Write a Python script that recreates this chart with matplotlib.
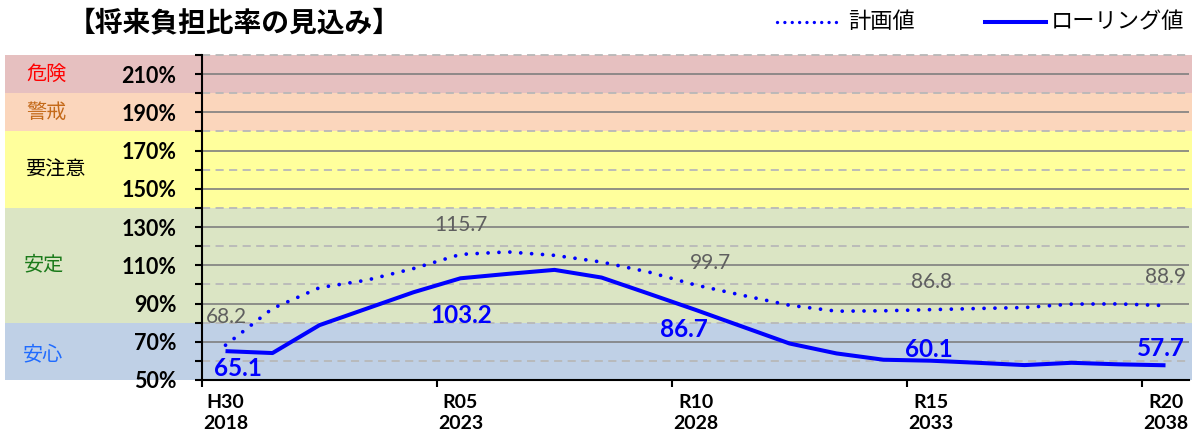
import matplotlib
matplotlib.use("Agg")
import matplotlib.pyplot as plt
from matplotlib.patches import Rectangle
from matplotlib.lines import Line2D
from matplotlib.transforms import blended_transform_factory

# ── データ ──────────────────────────────────────────────────────────────
years = list(range(2018, 2039))
plan = [68.2, 87.4, 98.3, 102.2, 108.3, 115.7, 117.0, 115.2, 111.7, 106.5,
        99.7, 94.3, 89.1, 86.0, 86.2, 86.8, 87.4, 87.9, 89.7, 89.8, 88.9]
rolling = [65.1, 64.1, 78.7, 87.3, 95.9, 103.2, 105.5, 107.6, 103.6, 95.2,
           86.7, 77.9, 69.1, 63.9, 60.6, 60.1, 59.0, 57.8, 59.0, 58.2, 57.7]

tick_idx = [0, 5, 10, 15, 20]
tick_labels = ["H30\n2018", "R05\n2023", "R10\n2028", "R15\n2033", "R20\n2038"]

plan_label_idx = [0, 5, 10, 15, 20]
rolling_label_idx = [0, 5, 10, 15, 20]

zone_names = ["安心", "安定", "要注意", "警戒", "危険"]
zone_bounds = [(50, 80), (80, 140), (140, 180), (180, 200), (200, 220)]

# ── スタイル ────────────────────────────────────────────────────────────
W, H = 1197, 434
BLUE = "#0000ff"
GREY_TXT = "#5f5f5f"
JP = ["Noto Sans CJK JP", "DejaVu Sans"]
NUM = ["Lato", "DejaVu Sans"]

zone_fill = ["#bfd0e6", "#dbe5c4", "#ffff9c", "#fbd6bc", "#e6c0c0"]
zone_txt = ["#1f6bff", "#1a7a1a", "#000000", "#c46a1a", "#ff0000"]
zone_txt_x = [43, 44, 55, 46, 46]      # px
zone_txt_y = [63, 110, 160, 190, 210]  # 値の位置

# ラベル位置のずらし量（ピクセル）
plan_off = [(1, 28), (0, 29), (15, 22), (1, 28), (0, 29)]
roll_off = [(12, -17), (1, -37), (-12, -20), (-2, 11), (-5, 17)]

plt.rcParams["font.family"] = NUM

fig = plt.figure(figsize=(W / 100, H / 100), dpi=100)
ax = fig.add_axes([202 / W, 54 / H, (1189 - 202) / W, 325 / H])
ax.patch.set_facecolor("none")
ax.set_xlim(-0.5, 20.5)
ax.set_ylim(50, 220)

band_tr = blended_transform_factory(fig.transFigure, ax.transData)

# 判定区分の背景帯
for (lo, hi), col in zip(zone_bounds, zone_fill):
    ax.add_patch(Rectangle((5 / W, lo), (1192 - 5) / W, hi - lo,
                           transform=band_tr, facecolor=col,
                           edgecolor="none", clip_on=False, zorder=0))

for name, col, tx, ty in zip(zone_names, zone_txt, zone_txt_x, zone_txt_y):
    ax.text(tx / W, ty, name, transform=band_tr, ha="center", va="center",
            fontsize=14.5, color=col, family=JP, clip_on=False, zorder=1)

# 目盛線：実線と破線を交互に
for v in range(70, 220, 20):
    ax.axhline(v, color="#7f7f7f", lw=1.2, zorder=1)
for v in range(60, 230, 20):
    ax.axhline(v, color="#b8b8b8", lw=1.3, dashes=(4.5, 3), zorder=1,
               clip_on=False)

x = list(range(len(years)))
ax.plot(x, plan, color=BLUE, lw=2.7, linestyle=(0, (0.01, 2.9)),
        dash_capstyle="round", zorder=3)
ax.plot(x, rolling, color=BLUE, lw=2.9, solid_joinstyle="round",
        solid_capstyle="butt", zorder=3)

for i, (dx, dy) in zip(plan_label_idx, plan_off):
    ax.annotate(f"{plan[i]:.1f}", (i, plan[i]), xytext=(dx, dy),
                textcoords="offset pixels", ha="center", va="center",
                fontsize=15, color=GREY_TXT, zorder=4)
for i, (dx, dy) in zip(rolling_label_idx, roll_off):
    ax.annotate(f"{rolling[i]:.1f}", (i, rolling[i]), xytext=(dx, dy),
                textcoords="offset pixels", ha="center", va="center",
                fontsize=17.5, fontweight="bold", color=BLUE, zorder=4)

# 軸
for s in ("top", "right"):
    ax.spines[s].set_visible(False)
for s in ("left", "bottom"):
    ax.spines[s].set_linewidth(1.5)
    ax.spines[s].set_color("black")
    ax.spines[s].set_zorder(5)

ax.set_yticks(range(50, 220, 20))
ax.set_yticklabels([f"{v}%" for v in range(50, 220, 20)],
                   fontsize=15.5, fontweight="bold")
ax.set_yticks(range(60, 230, 20), minor=True)
ax.tick_params(axis="y", which="both", direction="out", length=5,
               width=1.5, pad=13.5)

ax.set_xticks(tick_idx)
ax.set_xticklabels(tick_labels, fontsize=14, fontweight="bold",
                   linespacing=1.3)
ax.set_xticks([t - 0.5 for t in tick_idx], minor=True)
ax.tick_params(axis="x", which="major", length=0, pad=10)
ax.tick_params(axis="x", which="minor", direction="out", length=5,
               width=1.5)

# タイトルと凡例
fig.text(68 / W, 1 - 23 / H, "【将来負担比率の見込み】", ha="left",
         va="center", fontsize=20, fontweight="bold", family=JP)

ly = 1 - 22 / H
fig.add_artist(Line2D([777 / W, 842 / W], [ly, ly], transform=fig.transFigure,
                      color=BLUE, lw=2.4, linestyle=(0, (0.01, 2.2)),
                      dash_capstyle="round"))
fig.text(848 / W, ly, "計画値", ha="left", va="center", fontsize=16,
         family=JP)
fig.add_artist(Line2D([985 / W, 1046 / W], [ly, ly], transform=fig.transFigure,
                      color=BLUE, lw=2.9))
fig.text(1051 / W, ly, "ローリング値", ha="left", va="center", fontsize=16,
         family=JP)

fig.savefig("out.png", dpi=100, facecolor="white")
